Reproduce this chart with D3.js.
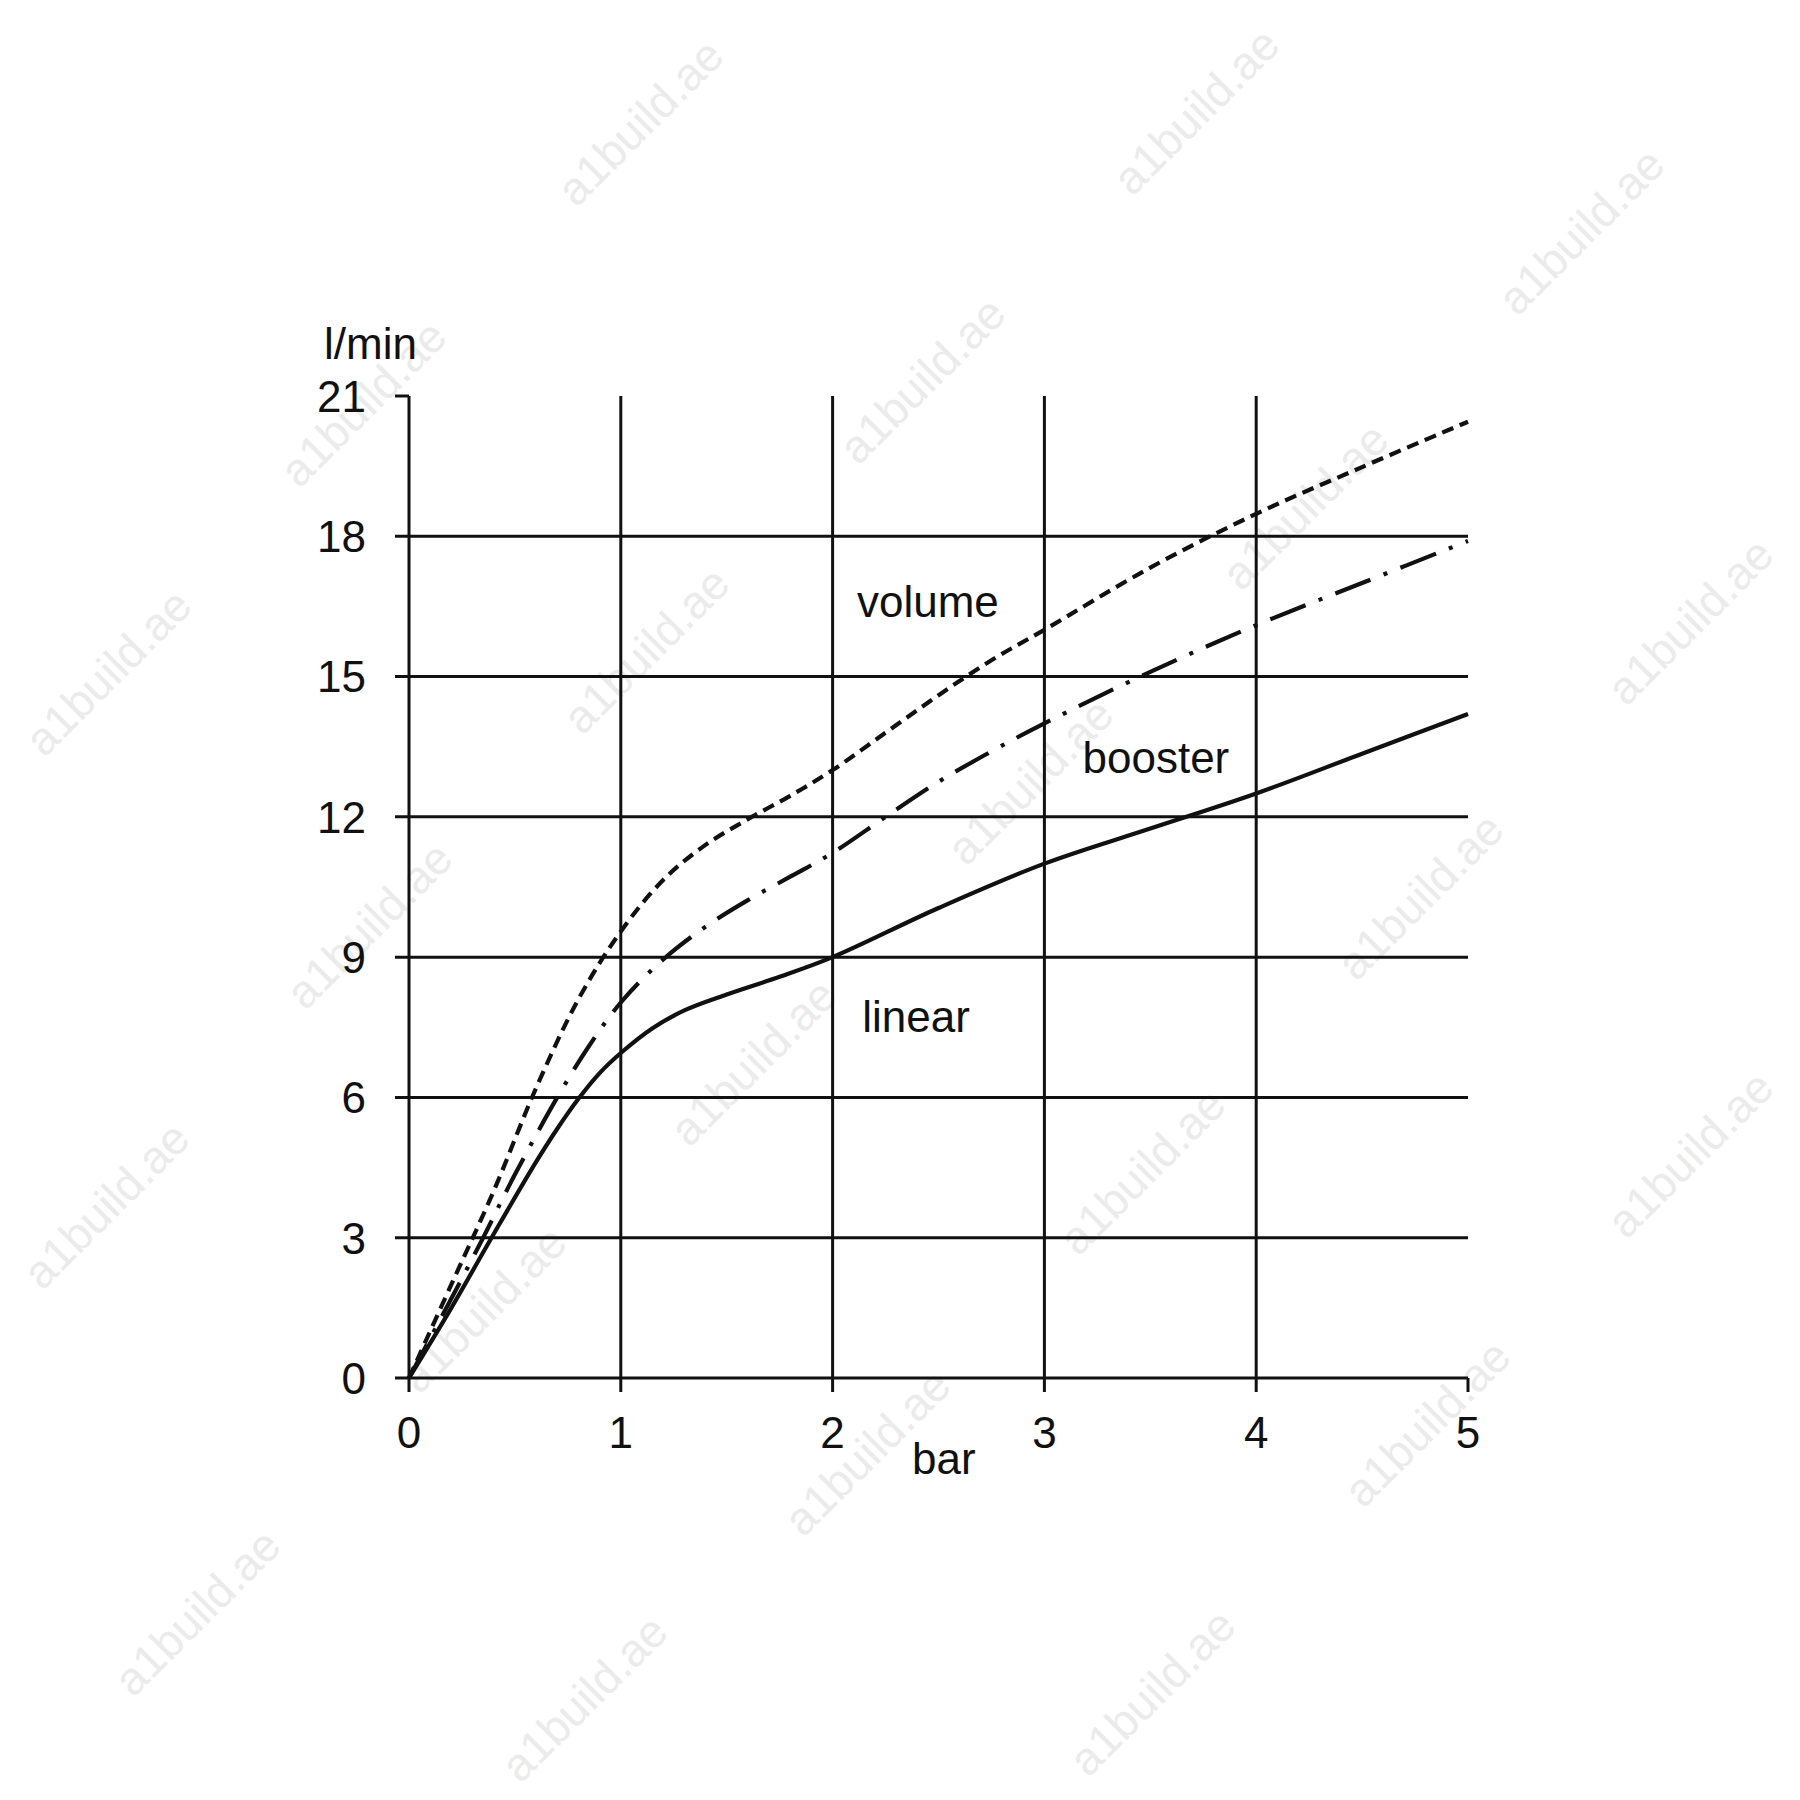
<!DOCTYPE html>
<html>
<head>
<meta charset="utf-8">
<script src="https://cdn.jsdelivr.net/npm/d3@7"></script>
<style>
  html, body { margin: 0; padding: 0; background: #ffffff; }
  svg { display: block; }
  text { font-family: "Liberation Sans", Arial, Helvetica, sans-serif; }
</style>
</head>
<body>
<svg id="chart" width="1800" height="1800"></svg>
<script>
// ---- data ----
const xTicks = [0, 1, 2, 3, 4, 5];
const yTicks = [0, 3, 6, 9, 12, 15, 18, 21];
const xUnit = "bar";
const yUnit = "l/min";

// [pressure (bar), flow (l/min)]
const volumeCurve = [[0,0],[0.2,2.0],[0.4,4.0],[0.6,6.2],[0.8,8.1],[1,9.55],[1.2,10.65],[1.4,11.4],[1.6,11.95],[1.8,12.45],[2,13.0],[2.25,13.8],[2.5,14.6],[2.75,15.35],[3,16.0],[3.5,17.33],[4,18.48],[4.5,19.48],[5,20.45]];
const boosterCurve = [[0,0],[0.2,1.7],[0.35,3],[0.5,4.35],[0.7,6],[0.85,7.1],[1,8.03],[1.2,8.95],[1.4,9.65],[1.6,10.22],[1.8,10.72],[2,11.23],[2.25,12.0],[2.5,12.75],[2.75,13.4],[3,14],[3.5,15.1],[4,16.1],[4.5,17.0],[5,17.9]];
const linearCurve = [[0,0],[0.2,1.5],[0.4,3.08],[0.6,4.62],[0.7,5.33],[0.8,5.97],[0.9,6.52],[1,6.95],[1.15,7.48],[1.3,7.86],[1.5,8.2],[1.75,8.58],[2,9.0],[2.5,10.05],[3,11],[3.5,11.75],[4,12.5],[4.5,13.35],[5,14.2]];

const curveLabels = [
  { name: "volume", at: [2.115, 16.27] },
  { name: "booster", at: [3.18, 12.94] },
  { name: "linear", at: [2.14, 7.4] }
];

const watermarkText = "a1build.ae";
const watermarkSpots = [[640,122],[1196,111],[1581,231],[922,380],[363,403],[108,672],[646,650],[1305,506],[1690,621],[1030,781],[369,925],[1420,896],[753,1062],[1690,1154],[106,1205],[1142,1171],[483,1309],[867,1452],[1427,1423],[197,1612],[584,1698],[1152,1692]];

(function () {
  // ---- layout ----
  const svg = d3.select("#chart");
  const pLeft = 409, pRight = 1468, pTop = 396, pBottom = 1378;
  const x = d3.scaleLinear().domain([0, 5]).range([pLeft, pRight]);
  const y = d3.scaleLinear().domain([0, 21]).range([pBottom, pTop]);
  const ink = "#111111";
  const fontSize = 44;

  svg.append("rect").attr("width", 1800).attr("height", 1800).attr("fill", "#ffffff");

  // watermark (faint)
  svg.append("g").selectAll("text").data(watermarkSpots).join("text")
    .attr("transform", d => `translate(${d[0]},${d[1]}) rotate(-45)`)
    .attr("text-anchor", "middle").attr("dy", "0.35em")
    .attr("font-size", 46).attr("fill", "#ebebeb")
    .text(watermarkText);

  // horizontal gridlines (with left tick) for 0..18
  const hg = svg.append("g");
  hg.selectAll("line").data(yTicks.filter(v => v < 21)).join("line")
    .attr("x1", pLeft - 14).attr("x2", pRight)
    .attr("y1", d => y(d)).attr("y2", d => y(d))
    .attr("stroke", ink).attr("stroke-width", 3);
  // top tick at 21
  hg.append("line").attr("x1", pLeft - 14).attr("x2", pLeft)
    .attr("y1", y(21)).attr("y2", y(21)).attr("stroke", ink).attr("stroke-width", 3);

  // vertical gridlines 0..4 with bottom tick; 5 only tick
  const vg = svg.append("g");
  vg.selectAll("line").data(xTicks).join("line")
    .attr("x1", d => x(d)).attr("x2", d => x(d))
    .attr("y1", d => d < 5 ? pTop : pBottom).attr("y2", pBottom + 14)
    .attr("stroke", ink).attr("stroke-width", 3);

  // tick labels
  svg.append("g").selectAll("text").data(yTicks).join("text")
    .attr("x", 366).attr("y", d => y(d)).attr("dy", "0.36em")
    .attr("text-anchor", "end").attr("font-size", fontSize).attr("fill", ink)
    .text(d => d);
  svg.append("g").selectAll("text").data(xTicks).join("text")
    .attr("x", d => x(d)).attr("y", 1448)
    .attr("text-anchor", "middle").attr("font-size", fontSize).attr("fill", ink)
    .text(d => d);

  // axis units
  svg.append("text").attr("x", 324).attr("y", 359).attr("font-size", fontSize).attr("fill", ink).text(yUnit);
  svg.append("text").attr("x", 912).attr("y", 1474).attr("font-size", fontSize).attr("fill", ink).text(xUnit);

  // curves
  const line = d3.line().x(d => x(d[0])).y(d => y(d[1])).curve(d3.curveCatmullRom.alpha(0.5));
  const series = [
    { data: volumeCurve, dash: "12,7" },
    { data: boosterCurve, dash: "38,14,4,14" },
    { data: linearCurve, dash: null }
  ];
  svg.append("g").selectAll("path").data(series).join("path")
    .attr("d", d => line(d.data))
    .attr("fill", "none").attr("stroke", ink).attr("stroke-width", 4.2)
    .attr("stroke-dasharray", d => d.dash);

  // curve labels
  svg.append("g").selectAll("text").data(curveLabels).join("text")
    .attr("x", d => x(d.at[0])).attr("y", d => y(d.at[1]))
    .attr("font-size", fontSize).attr("fill", ink)
    .text(d => d.name);
})();
</script>
</body>
</html>
